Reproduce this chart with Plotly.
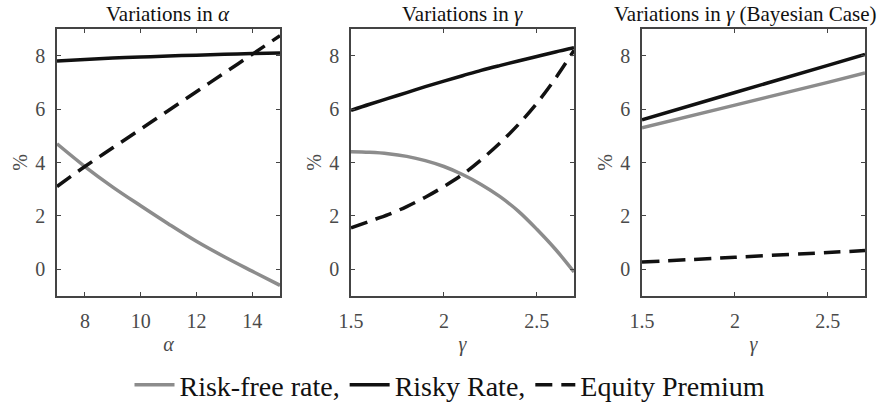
import plotly.graph_objects as go

# Panel 1: variations in alpha
alpha = [7, 8, 9, 10, 11, 12, 13, 14, 15]
a_riskfree = [4.7, 3.85, 3.08, 2.38, 1.7, 1.05, 0.47, -0.07, -0.6]
a_risky = [7.8, 7.86, 7.91, 7.95, 7.99, 8.02, 8.05, 8.08, 8.1]
a_premium = [3.1, 3.85, 4.55, 5.25, 5.95, 6.65, 7.35, 8.05, 8.75]

# Panel 2: variations in gamma
gamma = [1.5, 1.6, 1.7, 1.8, 1.9, 2.0, 2.1, 2.2, 2.3, 2.4, 2.5, 2.6, 2.7]
g_riskfree = [4.4, 4.38, 4.33, 4.23, 4.07, 3.85, 3.55, 3.18, 2.73, 2.18, 1.5, 0.75, -0.1]
g_risky = [5.95, 6.18, 6.4, 6.62, 6.84, 7.05, 7.25, 7.45, 7.63, 7.8, 7.97, 8.14, 8.3]
g_premium = [1.55, 1.8, 2.05, 2.35, 2.7, 3.1, 3.55, 4.1, 4.72, 5.42, 6.22, 7.15, 8.2]

# Panel 3: variations in gamma (Bayesian case)
gamma_b = [1.5, 2.0, 2.5, 2.7]
b_riskfree = [5.3, 6.15, 7.0, 7.35]
b_risky = [5.6, 6.62, 7.64, 8.05]
b_premium = [0.27, 0.45, 0.63, 0.7]

titles = ["Variations in <i>α</i>", "Variations in <i>γ</i>", "Variations in <i>γ</i> (Bayesian Case)"]
xlabels = ["<i>α</i>", "<i>γ</i>", "<i>γ</i>"]
series_names = ["Risk-free rate,", "Risky Rate,", "Equity Premium"]

GRAY = "#8c8c8c"
BLACK = "#111111"
FRAME = "#444444"
SERIF = "Times New Roman, Liberation Serif, serif"

panels = [
    (alpha, a_riskfree, a_risky, a_premium, [7, 15], [8, 10, 12, 14]),
    (gamma, g_riskfree, g_risky, g_premium, [1.5, 2.7], [1.5, 2, 2.5]),
    (gamma_b, b_riskfree, b_risky, b_premium, [1.5, 2.7], [1.5, 2, 2.5]),
]
domains = [[57 / 893, 280 / 893], [351 / 893, 574 / 893], [642 / 893, 865 / 893]]
title_x = [168 / 893, 462 / 893, 745 / 893]
ydom = [1 - 296 / 403, 1 - 29 / 403]

fig = go.Figure()
for i, (x, rf, rk, pr, xr, xt) in enumerate(panels):
    xa = "x" if i == 0 else f"x{i+1}"
    ya = "y" if i == 0 else f"y{i+1}"
    show = i == 0
    fig.add_trace(go.Scatter(x=x, y=rf, mode="lines", name=series_names[0],
                             line=dict(color=GRAY, width=3.5, shape="spline"),
                             xaxis=xa, yaxis=ya, showlegend=show))
    fig.add_trace(go.Scatter(x=x, y=rk, mode="lines", name=series_names[1],
                             line=dict(color=BLACK, width=3.5, shape="spline"),
                             xaxis=xa, yaxis=ya, showlegend=show))
    fig.add_trace(go.Scatter(x=x, y=pr, mode="lines", name=series_names[2],
                             line=dict(color=BLACK, width=3.5, dash="17px,9px", shape="spline"),
                             xaxis=xa, yaxis=ya, showlegend=show))
    axcommon = dict(showline=True, linecolor=FRAME, linewidth=1.5, mirror="ticks",
                    ticks="inside", ticklen=4, tickcolor=FRAME, showgrid=False,
                    zeroline=False, automargin=False,
                    tickfont=dict(family=SERIF, size=20, color="#4a4a4a"))
    fig.update_layout(**{
        ("xaxis" if i == 0 else f"xaxis{i+1}"): dict(
            domain=domains[i], range=xr, tickvals=xt, anchor=ya, ticklabelstandoff=6,
            title=dict(text=xlabels[i], font=dict(family=SERIF, size=20, color="#4a4a4a"), standoff=6),
            **axcommon),
        ("yaxis" if i == 0 else f"yaxis{i+1}"): dict(
            domain=ydom, range=[-1, 9], tickvals=[0, 2, 4, 6, 8], anchor=xa, ticklabelstandoff=6,
            title=dict(text="%", font=dict(family=SERIF, size=20, color="#4a4a4a"), standoff=2),
            **axcommon),
    })
    fig.add_annotation(text=titles[i], x=title_x[i], y=1 - 14 / 403,
                       xref="paper", yref="paper", showarrow=False,
                       xanchor="center", yanchor="middle",
                       font=dict(family=SERIF, size=21, color="#111111"))

fig.update_layout(
    template="none",
    width=893, height=403, margin=dict(l=0, r=0, t=0, b=0, autoexpand=False),
    paper_bgcolor="white", plot_bgcolor="white",
    font=dict(family=SERIF),
    legend=dict(orientation="h", x=450 / 893, xanchor="center", y=1 - 385 / 403, yanchor="middle",
                font=dict(family=SERIF, size=28, color="#111111"),
                itemwidth=40, tracegroupgap=0, bgcolor="rgba(0,0,0,0)"),
)

fig.write_html("out.html", config={"displayModeBar": False},
               post_script="document.body.style.margin='0';document.body.style.overflow='hidden';")
